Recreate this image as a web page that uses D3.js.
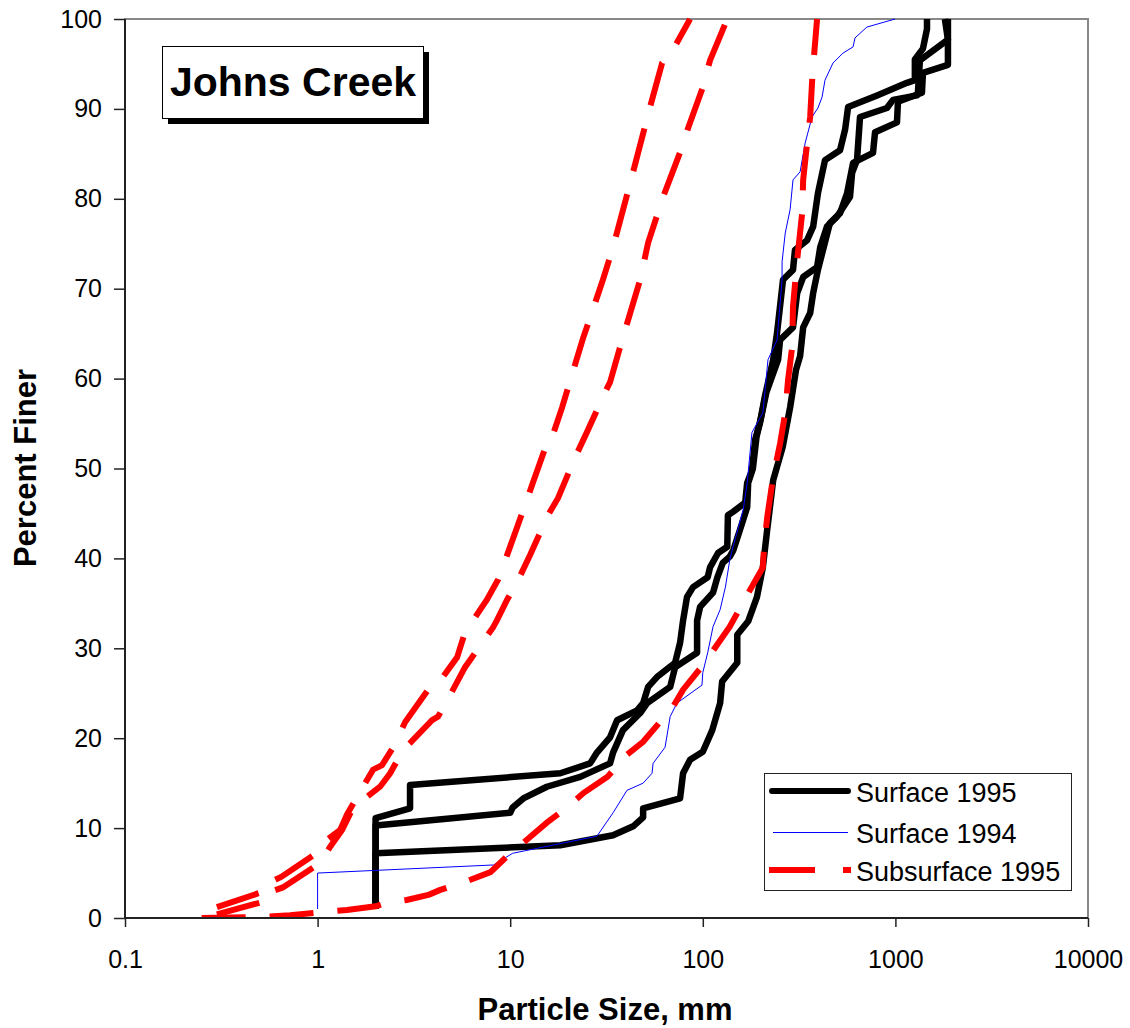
<!DOCTYPE html>
<html>
<head>
<meta charset="utf-8">
<script src="https://cdn.jsdelivr.net/npm/d3@7"></script>
<style>
  body { margin: 0; background: #fff; }
  svg { display: block; font-family: Arial, "Liberation Sans", sans-serif; }
</style>
</head>
<body>
<div id="chart"></div>
<script>
// Johns Creek grain size curves

var xTicks = [0.1, 1, 10, 100, 1000, 10000];
var xTickLabels = ["0.1", "1", "10", "100", "1000", "10000"];
var yTicks = [0, 10, 20, 30, 40, 50, 60, 70, 80, 90, 100];

// Surface 1995 (three samples) - [size mm, percent finer]
var surfaceA = [[2,1],[2,11.1],[3.02,12.2],[3.02,14.8],[18.2,16.1],[26,17.2],[28.2,18.4],[33,20.1],[35.9,22.0],[45.6,23.1],[49,23.9],[52,25.7],[57.8,26.8],[71.8,28.4],[76.2,30.6],[79,33.1],[82.8,35.7],[89,36.8],[106,37.9],[109,39.0],[120,40.6],[134,41.3],[135,44.8],[144,45.2],[166,46.2],[170,48.4],[180,49.8],[187,53.2],[198,55.1],[210,58],[232,62.1],[243,65.1],[261,71.0],[294,72.1],[301,74.3],[348,75.4],[374,76.9],[396,80.6],[431,84.3],[516,85.4],[548,87.7],[568,90.2],[803,91.5],[1148,92.9],[1262,93.2],[1262,95.5],[1390,96.7],[1459,98.9],[1459,100]];
var surfaceB = [[2,1],[2,10.3],[10,11.7],[10.3,12.3],[11.7,13.3],[15.5,14.6],[23.1,15.7],[33,17.2],[34.2,18.4],[38.5,20.9],[47.3,22.8],[51.4,23.9],[67.7,25.7],[71.8,27.9],[93.4,29.5],[93.4,33.1],[96.8,34.6],[113,36.2],[119,37.9],[127,39.5],[138,40.2],[144,40.9],[156,43.2],[170,45.7],[172,48.4],[182,50],[190,53.5],[200,55.5],[214,58.5],[246,62.1],[252,64.3],[294,65.7],[309,69.5],[332,71.3],[392,72.4],[407,74.6],[441,76.9],[497,78.0],[581,80.2],[596,82.9],[632,84.3],[655,89.1],[904,90.1],[972,91],[1294,91.5],[1309,91.8],[1340,95.4],[1874,97.7],[1807,100]];
var surfaceC = [[2,1],[2,7.2],[18.2,8.1],[34.2,9.2],[43.5,10.2],[49,11.2],[49,12.2],[76.2,13.3],[79,16.1],[85.9,17.6],[100,18.5],[112,20.9],[123,23.9],[126,26.3],[151,28.4],[151,31.5],[172,33],[191,35.7],[205,39],[216,43.2],[232,48.7],[260,52.4],[284,56.8],[305,61],[320,62.5],[332,65.7],[361,67.3],[374,69.5],[396,72.1],[457,77.3],[516,78.4],[561,80.6],[603,84.0],[765,85.1],[784,87.4],[1019,88.5],[1031,90.8],[1373,91.8],[1390,94.0],[1874,94.9],[1874,100]];

// Surface 1994
var surface94 = [[1,1.0],[1,5.0],[8.2,5.9],[10.3,7.2],[28.2,9.1],[34.2,11.7],[40.4,14.2],[49,15],[54.5,16.1],[55.2,17.2],[63.7,19.0],[67.7,22.4],[73.4,23.9],[99,25.9],[100,27.3],[106,29.5],[113,32.4],[123,34.3],[131,36.8],[138,39.8],[142,40.9],[162,45.4],[170,48.4],[180,54],[205,56.2],[218,62.1],[243,64.3],[258,71],[258,73],[268,76.2],[284,78.8],[294,82.1],[320,83],[340,86.2],[369,89.1],[396,90.1],[416,91.3],[431,93.2],[474,95.1],[534,96.2],[603,96.9],[617,97.9],[711,99.1],[996,100]];

// Subsurface 1995 (three samples)
var subA = [[0.3,1.2],[0.5,2.8],[0.5,3.4],[0.65,4.6],[1.0,7.3],[1.12,8.7],[1.31,9.8],[1.42,11.5],[1.94,16.5],[2.16,17.0],[2.47,19.0],[2.85,21.8],[3.84,25.7],[4.17,25.9],[5.3,29.0],[5.83,31.8],[7.57,35.4],[8.63,37.6],[9.76,40.7],[11.7,45.4],[13.1,48.4],[15.5,52.8],[16.1,52.8],[18.6,56.8],[20.5,59.8],[23.9,64.5],[26.6,67.4],[30.3,71.0],[34.2,74.6],[43,82.6],[53.2,90.2],[61.5,95.1],[67.7,96.0],[85.9,100]];
var subB = [[0.3,0.4],[0.5,1.7],[0.5,2.5],[0.66,3.4],[1.03,6.1],[1.16,7.9],[1.34,9.8],[1.53,12.3],[2.11,14.6],[2.38,16.1],[2.78,18.7],[3.13,19.8],[3.93,22.0],[4.22,22.4],[5.05,25.4],[5.83,27.9],[8.13,32.3],[8.53,33.1],[9.64,35.4],[11.0,37.6],[12.7,40.4],[15.7,44.8],[17.7,46.7],[21.7,51.2],[25.1,54.1],[31.1,58.5],[33,59.6],[38.1,64.3],[42,67.3],[47.3,71.0],[52,75.1],[62.2,80.2],[76,85.1],[84,87.9],[100,92.4],[109,95.4],[134,100]];
var subC = [[0.25,0],[0.5,0.1],[0.72,0.3],[1.12,0.7],[1.42,0.9],[2.0,1.3],[2.29,1.7],[2.9,2.0],[3.8,2.6],[4.3,3.1],[5.8,4.0],[7.9,5.1],[10,7.2],[12.2,8.7],[15.5,10.6],[19.7,12.3],[24,13.9],[32,15.7],[40,18.1],[49,19.6],[70,23.5],[79,25.4],[100,28.1],[138,32.4],[176,36.5],[205,39],[208,41.3],[216,44.6],[232,49.1],[252,52.8],[268,56.2],[277,59.8],[291,63.5],[294,68],[309,73.2],[328,78.4],[332,82.1],[348,86.2],[361,89.1],[369,92.9],[374,94.7],[392,100]];

var legendLabels = ["Surface 1995", "Surface 1994", "Subsurface 1995"];

(function() {
	var width = 1130, height = 1028;
	var pl = 125, pr = 1088, pt = 19, pb = 918;
	var font = "Arial, 'Liberation Sans', sans-serif";

	var svg = d3.select("#chart").append("svg")
		.attr("width", width).attr("height", height);

	var x = d3.scaleLog().domain([0.1, 10000]).range([pl, pr]);
	var y = d3.scaleLinear().domain([0, 100]).range([pb, pt]);

	svg.append("clipPath").attr("id", "plotclip")
	  .append("rect").attr("x", pl).attr("y", pt - 1)
		.attr("width", pr - pl).attr("height", pb - pt + 2);

	// plot area frame (grey top/right)
	svg.append("rect")
		.attr("x", pl).attr("y", pt)
		.attr("width", pr - pl).attr("height", pb - pt)
		.attr("fill", "none").attr("stroke", "#888").attr("stroke-width", 2);

	var line = d3.line()
		.x(function(d) { return x(d[0]); })
		.y(function(d) { return y(d[1]); });

	var plot = svg.append("g").attr("clip-path", "url(#plotclip)");

	[surfaceA, surfaceB, surfaceC].forEach(function(s) {
		plot.append("path").datum(s)
			.attr("d", line)
			.attr("fill", "none").attr("stroke", "#000")
			.attr("stroke-width", 6.5).attr("stroke-linejoin", "round");
	});

	plot.append("path").datum(surface94)
		.attr("d", line)
		.attr("fill", "none").attr("stroke", "#0000ff").attr("stroke-width", 1);

	[subA, subB, subC].forEach(function(s) {
		plot.append("path").datum(s)
			.attr("d", line)
			.attr("fill", "none").attr("stroke", "#ff0000")
			.attr("stroke-width", 6).attr("stroke-dasharray", "44,24");
	});

	// axes
	var yAxis = svg.append("g")
		.attr("transform", "translate(" + pl + ",0)")
		.call(d3.axisLeft(y).tickValues(yTicks).tickSize(11).tickPadding(12));
	var xAxis = svg.append("g")
		.attr("transform", "translate(0," + pb + ")")
		.call(d3.axisBottom(x).tickValues(xTicks).tickSize(9).tickPadding(24)
			.tickFormat(function(d, i) { return xTickLabels[i]; }));

	[xAxis, yAxis].forEach(function(a) {
		a.attr("font-size", 25).attr("font-family", font);
		a.select(".domain").attr("stroke", "#222").attr("stroke-width", 2);
		a.selectAll(".tick line").attr("stroke", "#222").attr("stroke-width", 1.5);
		a.selectAll(".tick text").attr("fill", "#000");
	});
	yAxis.select(".domain").attr("d", "M0," + pt + "V" + pb);
	xAxis.select(".domain").attr("d", "M" + pl + ",0H" + pr);
	xAxis.selectAll(".tick text").attr("dy", null).attr("y", 968 - pb);

	svg.append("text")
		.attr("x", 605).attr("y", 1020)
		.attr("text-anchor", "middle")
		.style("font-size", "31px").style("font-weight", "bold")
		.text("Particle Size, mm");

	svg.append("text")
		.attr("transform", "translate(36,468) rotate(-90)")
		.attr("text-anchor", "middle")
		.style("font-size", "31px").style("font-weight", "bold")
		.text("Percent Finer");

	// title box with shadow
	svg.append("rect").attr("x", 168).attr("y", 52).attr("width", 261).attr("height", 72).attr("fill", "#000");
	svg.append("rect").attr("x", 162.5).attr("y", 46.5).attr("width", 261).attr("height", 72)
		.attr("fill", "#fff").attr("stroke", "#000").attr("stroke-width", 1);
	svg.append("text")
		.attr("x", 293).attr("y", 96)
		.attr("text-anchor", "middle")
		.style("font-size", "41px").style("font-weight", "bold")
		.text("Johns Creek");

	// legend
	var lg = svg.append("g");
	lg.append("rect").attr("x", 764.5).attr("y", 773.5).attr("width", 307).attr("height", 117)
		.attr("fill", "#fff").attr("stroke", "#222").attr("stroke-width", 1);
	var rowsY = [791, 832, 870];
	lg.append("line").attr("x1", 772).attr("x2", 848).attr("y1", rowsY[0]).attr("y2", rowsY[0])
		.attr("stroke", "#000").attr("stroke-width", 6).attr("stroke-linecap", "round");
	lg.append("line").attr("x1", 773).attr("x2", 848).attr("y1", rowsY[1] + 0.5).attr("y2", rowsY[1] + 0.5)
		.attr("stroke", "#0000ff").attr("stroke-width", 1);
	lg.append("line").attr("x1", 769).attr("x2", 851).attr("y1", rowsY[2]).attr("y2", rowsY[2])
		.attr("stroke", "#ff0000").attr("stroke-width", 6).attr("stroke-dasharray", "46,28");
	lg.selectAll("text.lab").data(legendLabels).enter().append("text")
		.attr("class", "lab")
		.attr("x", 856)
		.attr("y", function(d, i) { return rowsY[i] + 11; })
		.style("font-size", "27px")
		.text(function(d) { return d; });
})();
</script>
</body>
</html>
